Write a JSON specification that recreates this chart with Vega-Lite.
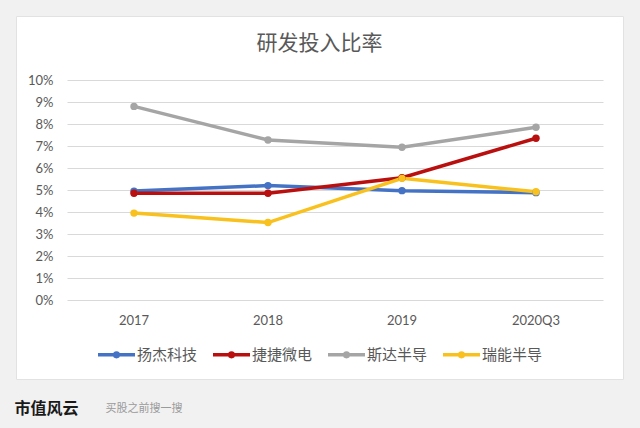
{
  "$schema": "https://vega.github.io/schema/vega-lite/v6.json",
  "autosize": "none",
  "width": 607,
  "height": 363,
  "padding": {"left": 16, "top": 16, "right": 17, "bottom": 49},
  "background": "#f1f1f1",
  "title": {
    "text": "研发投入比率",
    "font": "Noto Sans CJK SC",
    "fontSize": 21,
    "fontWeight": "normal",
    "color": "#595959",
    "anchor": "middle",
    "frame": "group",
    "offset": -38
  },
  "data": {
    "values": [
      {"year": "2017", "company": "扬杰科技", "ratio": 0.0495},
      {"year": "2018", "company": "扬杰科技", "ratio": 0.052},
      {"year": "2019", "company": "扬杰科技", "ratio": 0.0497},
      {"year": "2020Q3", "company": "扬杰科技", "ratio": 0.0488},
      {"year": "2017", "company": "捷捷微电", "ratio": 0.0485},
      {"year": "2018", "company": "捷捷微电", "ratio": 0.0485},
      {"year": "2019", "company": "捷捷微电", "ratio": 0.0556},
      {"year": "2020Q3", "company": "捷捷微电", "ratio": 0.0735},
      {"year": "2017", "company": "斯达半导", "ratio": 0.088},
      {"year": "2018", "company": "斯达半导", "ratio": 0.0727},
      {"year": "2019", "company": "斯达半导", "ratio": 0.0694},
      {"year": "2020Q3", "company": "斯达半导", "ratio": 0.0785},
      {"year": "2017", "company": "瑞能半导", "ratio": 0.0395},
      {"year": "2018", "company": "瑞能半导", "ratio": 0.0352},
      {"year": "2019", "company": "瑞能半导", "ratio": 0.0553},
      {"year": "2020Q3", "company": "瑞能半导", "ratio": 0.0492}
    ]
  },
  "mark": {
    "type": "line",
    "strokeWidth": 3.5,
    "point": {"filled": true, "size": 55}
  },
  "encoding": {
    "x": {
      "field": "year",
      "type": "ordinal",
      "sort": ["2017", "2018", "2019", "2020Q3"],
      "scale": {"type": "band", "range": [51, 587], "paddingInner": 0, "paddingOuter": 0},
      "axis": {
        "orient": "bottom",
        "offset": -79,
        "domain": false,
        "ticks": false,
        "grid": false,
        "labelAngle": 0,
        "labelPadding": 14,
        "labelFont": "Lato",
        "labelFontSize": 13,
        "labelColor": "#595959",
        "title": "市值风云",
        "titleX": -2,
        "titleY": 108,
        "titleAlign": "left",
        "titleBaseline": "middle",
        "titleFont": "Noto Sans CJK SC",
        "titleFontSize": 16,
        "titleFontWeight": "bold",
        "titleColor": "#1a1a1a"
      }
    },
    "y": {
      "field": "ratio",
      "type": "quantitative",
      "scale": {"domain": [0, 0.1], "range": [284, 64], "nice": false, "zero": true},
      "axis": {
        "orient": "left",
        "offset": -51,
        "values": [0, 0.01, 0.02, 0.03, 0.04, 0.05, 0.06, 0.07, 0.08, 0.09, 0.1],
        "format": ".0%",
        "domain": false,
        "ticks": false,
        "grid": true,
        "gridColor": "#d9d9d9",
        "gridWidth": 1,
        "labelPadding": 14,
        "labelFont": "Lato",
        "labelFontSize": 13,
        "labelColor": "#595959",
        "title": "买股之前搜一搜",
        "titleAngle": 0,
        "titleX": 38,
        "titleY": 392,
        "titleAlign": "left",
        "titleBaseline": "middle",
        "titleFont": "Noto Sans CJK SC",
        "titleFontSize": 11,
        "titleFontWeight": "normal",
        "titleColor": "#9a9a9a"
      }
    },
    "color": {
      "field": "company",
      "type": "nominal",
      "scale": {
        "domain": ["扬杰科技", "捷捷微电", "斯达半导", "瑞能半导"],
        "range": ["#4472C4", "#B90F0F", "#A5A5A5", "#F8C11E"]
      },
      "legend": {
        "orient": "none",
        "legendX": 80,
        "legendY": 318,
        "direction": "horizontal",
        "title": null,
        "symbolType": "M-1,0H1M0.1,0A0.1,0.1 0 1 1 -0.1,0A0.1,0.1 0 1 1 0.1,0",
        "symbolSize": 1369,
        "symbolStrokeWidth": 3.5,
        "labelOffset": 0,
        "columnPadding": 8,
        "labelFont": "Noto Sans CJK SC",
        "labelFontSize": 15,
        "labelColor": "#595959"
      }
    }
  },
  "config": {
    "view": {"fill": "white", "stroke": "#e2e2e2"}
  }
}
